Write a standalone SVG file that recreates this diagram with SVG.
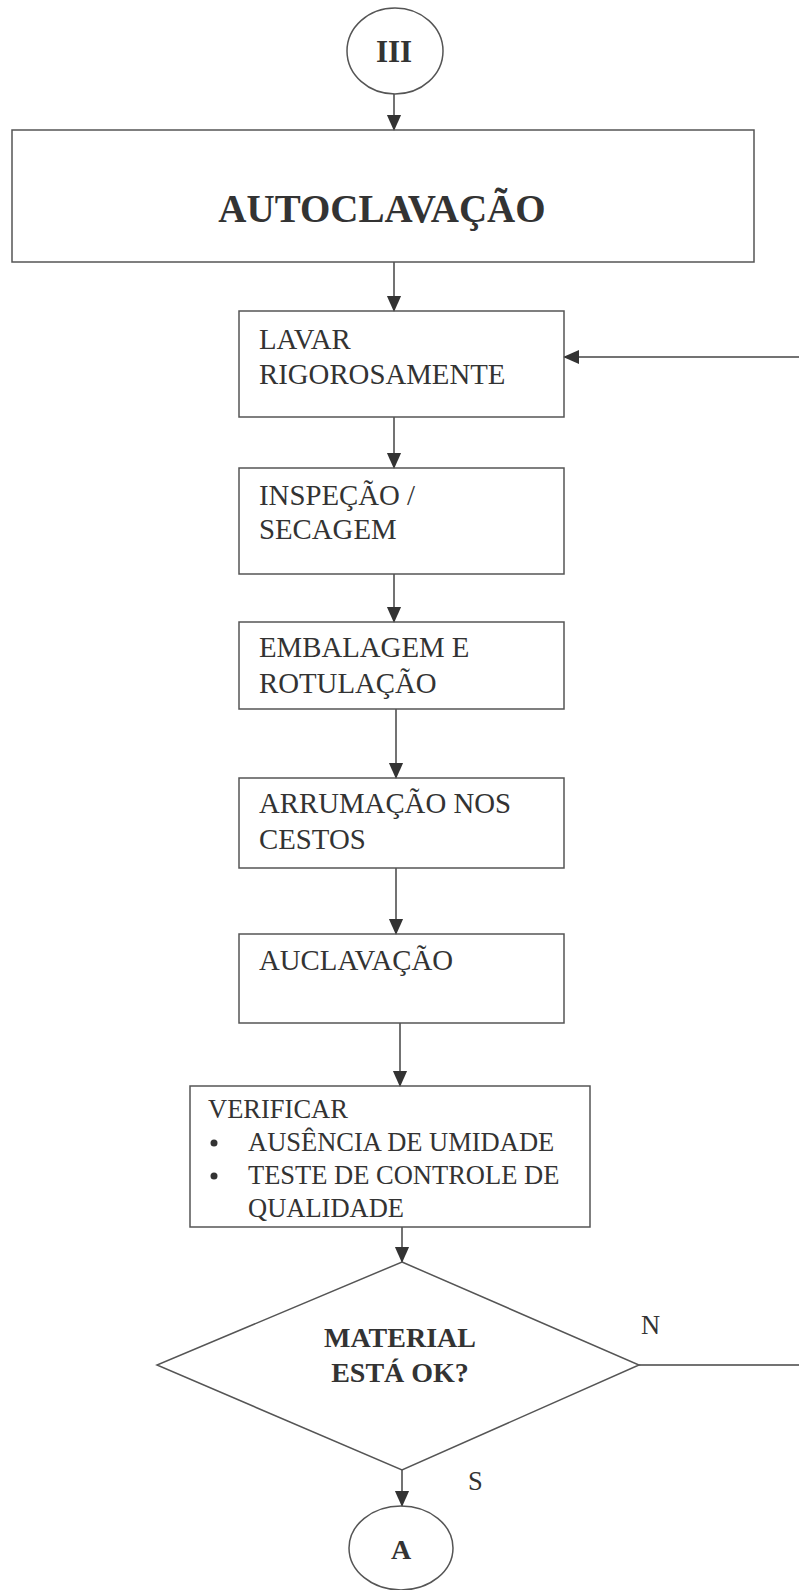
<svg xmlns="http://www.w3.org/2000/svg" width="799" height="1590" viewBox="0 0 799 1590">
<defs>
<marker id="ah" markerWidth="16" markerHeight="18" refX="17" refY="8" orient="auto" markerUnits="userSpaceOnUse" viewBox="0 0 18 16">
<path d="M0,0 L18,8 L0,16 Z" fill="#333"/>
</marker>
<style>
.box{fill:none;stroke:#555;stroke-width:1.5}
.ln{fill:none;stroke:#444;stroke-width:1.5}
.t{font-family:"Liberation Serif","Times New Roman",serif;font-size:28.8px;fill:#333}
.v{font-family:"Liberation Serif","Times New Roman",serif;font-size:26.5px;fill:#333}
.b{font-family:"Liberation Serif","Times New Roman",serif;font-weight:bold;fill:#333}
</style>
</defs>
<rect width="799" height="1590" fill="#fff"/>
<g id="connectors">
<line class="ln" x1="394" y1="94" x2="394" y2="130" marker-end="url(#ah)"/>
<line class="ln" x1="394" y1="262" x2="394" y2="311" marker-end="url(#ah)"/>
<line class="ln" x1="799" y1="357" x2="564" y2="357" marker-end="url(#ah)"/>
<line class="ln" x1="394" y1="417" x2="394" y2="468" marker-end="url(#ah)"/>
<line class="ln" x1="394" y1="574" x2="394" y2="622" marker-end="url(#ah)"/>
<line class="ln" x1="396" y1="709" x2="396" y2="778" marker-end="url(#ah)"/>
<line class="ln" x1="396" y1="868" x2="396" y2="934" marker-end="url(#ah)"/>
<line class="ln" x1="400" y1="1023" x2="400" y2="1086" marker-end="url(#ah)"/>
<line class="ln" x1="402" y1="1227" x2="402" y2="1262" marker-end="url(#ah)"/>
<line class="ln" x1="639" y1="1365" x2="799" y2="1365"/>
<line class="ln" x1="402" y1="1470" x2="402" y2="1506" marker-end="url(#ah)"/>
<text class="v" x="641" y="1334" font-size="24">N</text>
<text class="v" x="468" y="1490" font-size="24">S</text>
</g>
<g id="start">
<ellipse class="box" cx="395" cy="51" rx="48" ry="43"/>
<text class="b" x="394" y="62" font-size="31" text-anchor="middle">III</text>
</g>
<g id="autoclavacao">
<rect class="box" x="12" y="130" width="742" height="132"/>
<text class="b" x="382" y="222" font-size="39" text-anchor="middle">AUTOCLAVAÇÃO</text>
</g>
<g id="lavar">
<rect class="box" x="239" y="311" width="325" height="106"/>
<text class="t" x="259" y="349">LAVAR</text>
<text class="t" x="259" y="384">RIGOROSAMENTE</text>
</g>
<g id="inspecao">
<rect class="box" x="239" y="468" width="325" height="106"/>
<text class="t" x="259" y="505">INSPEÇÃO /</text>
<text class="t" x="259" y="539">SECAGEM</text>
</g>
<g id="embalagem">
<rect class="box" x="239" y="622" width="325" height="87"/>
<text class="t" x="259" y="657">EMBALAGEM E</text>
<text class="t" x="259" y="693">ROTULAÇÃO</text>
</g>
<g id="arrumacao">
<rect class="box" x="239" y="778" width="325" height="90"/>
<text class="t" x="259" y="813">ARRUMAÇÃO NOS</text>
<text class="t" x="259" y="849">CESTOS</text>
</g>
<g id="auclavacao">
<rect class="box" x="239" y="934" width="325" height="89"/>
<text class="t" x="259" y="970">AUCLAVAÇÃO</text>
</g>
<g id="verificar">
<rect class="box" x="190" y="1086" width="400" height="141"/>
<text class="v" x="208" y="1118">VERIFICAR</text>
<circle cx="214" cy="1143" r="3.5" fill="#333"/>
<text class="v" x="248" y="1151">AUSÊNCIA DE UMIDADE</text>
<circle cx="214" cy="1176" r="3.5" fill="#333"/>
<text class="v" x="248" y="1184">TESTE DE CONTROLE DE</text>
<text class="v" x="248" y="1217">QUALIDADE</text>
</g>
<g id="decisao">
<polygon class="box" points="402,1262 639,1365 402,1470 157,1365"/>
<text class="b" x="400" y="1347" font-size="28" text-anchor="middle">MATERIAL</text>
<text class="b" x="400" y="1382" font-size="28" text-anchor="middle">ESTÁ OK?</text>
</g>
<g id="fim">
<ellipse class="box" cx="401" cy="1548" rx="52" ry="42"/>
<text class="b" x="401" y="1559" font-size="28" text-anchor="middle">A</text>
</g>
</svg>
